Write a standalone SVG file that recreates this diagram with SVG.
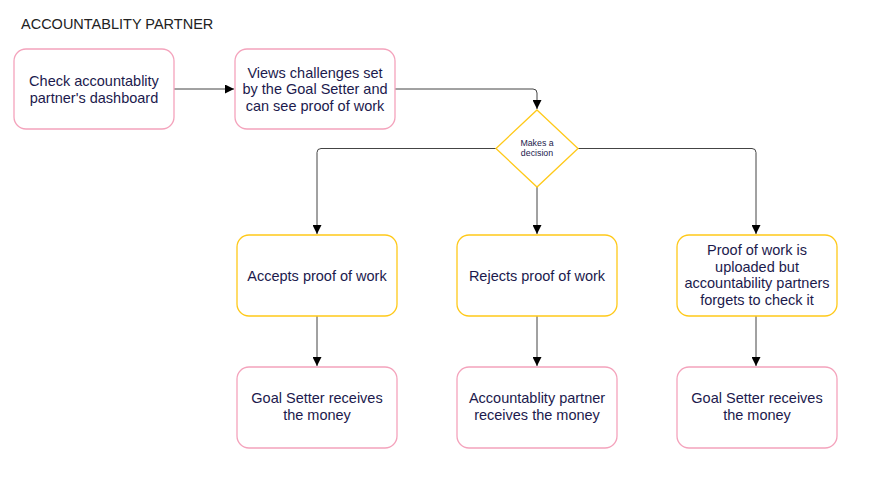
<svg xmlns="http://www.w3.org/2000/svg" width="874" height="488" viewBox="0 0 874 488">
<style>
.pink{fill:#fff;stroke:#f4a3bc;stroke-width:1.3}
.yel{fill:#fff;stroke:#ffc919;stroke-width:1.3}
.t{font-family:"Liberation Sans",Arial,sans-serif;font-size:14.5px;fill:#1c1a4d;text-anchor:middle}
.s{font-family:"Liberation Sans",Arial,sans-serif;font-size:8.8px;fill:#1c1a4d;text-anchor:middle}
.title{font-family:"Liberation Sans",Arial,sans-serif;font-size:14.5px;fill:#222}
.c{fill:none;stroke:#444;stroke-width:1}
</style>
<defs>
<marker id="ah" viewBox="0 0 10 10" refX="10" refY="5" markerWidth="9" markerHeight="9" markerUnits="userSpaceOnUse" orient="auto">
<path d="M0,0 L10,5 L0,10 z" fill="#000"/>
</marker>
</defs>
<rect width="874" height="488" fill="#fff"/>
<text class="title" x="21" y="29">ACCOUNTABLITY PARTNER</text>
<g id="connectors">
<path class="c" d="M174,89 H234" marker-end="url(#ah)"/>
<path class="c" d="M395,89 H533 Q537,89 537,93 V109" marker-end="url(#ah)"/>
<path class="c" d="M496,148.5 H321 Q317,148.5 317,152.5 V234" marker-end="url(#ah)"/>
<path class="c" d="M537,187 V234" marker-end="url(#ah)"/>
<path class="c" d="M578,148.5 H752 Q756,148.5 756,152.5 V234" marker-end="url(#ah)"/>
<path class="c" d="M317,316 V366" marker-end="url(#ah)"/>
<path class="c" d="M537,316 V366" marker-end="url(#ah)"/>
<path class="c" d="M756,316 V366" marker-end="url(#ah)"/>
</g>
<g id="check">
<rect class="pink" x="14" y="49" width="160" height="80" rx="12"/>
<text class="t" x="94" y="86">Check accountablity</text>
<text class="t" x="94" y="102.5">partner's dashboard</text>
</g>
<g id="views">
<rect class="pink" x="235" y="49" width="160" height="80" rx="12"/>
<text class="t" x="315" y="77.5">Views challenges set</text>
<text class="t" x="315" y="94">by the Goal Setter and</text>
<text class="t" x="315" y="110.5">can see proof of work</text>
</g>
<g id="decision">
<polygon class="yel" points="537,110 578,148.5 537,187 496,148.5"/>
<text class="s" x="537" y="146">Makes a</text>
<text class="s" x="537" y="156">decision</text>
</g>
<g id="accepts">
<rect class="yel" x="237" y="235" width="160" height="81" rx="12"/>
<text class="t" x="317" y="280.5">Accepts proof of work</text>
</g>
<g id="rejects">
<rect class="yel" x="457" y="235" width="160" height="81" rx="12"/>
<text class="t" x="537" y="280.5">Rejects proof of work</text>
</g>
<g id="forgets">
<rect class="yel" x="677" y="235" width="160" height="81" rx="12"/>
<text class="t" x="757" y="255">Proof of work is</text>
<text class="t" x="757" y="271.5">uploaded but</text>
<text class="t" x="757" y="288">accountability partners</text>
<text class="t" x="757" y="304.5">forgets to check it</text>
</g>
<g id="goal1">
<rect class="pink" x="237" y="367" width="160" height="81" rx="12"/>
<text class="t" x="317" y="403">Goal Setter receives</text>
<text class="t" x="317" y="419.5">the money</text>
</g>
<g id="partner">
<rect class="pink" x="457" y="367" width="160" height="81" rx="12"/>
<text class="t" x="537" y="403">Accountablity partner</text>
<text class="t" x="537" y="419.5">receives the money</text>
</g>
<g id="goal2">
<rect class="pink" x="677" y="367" width="160" height="81" rx="12"/>
<text class="t" x="757" y="403">Goal Setter receives</text>
<text class="t" x="757" y="419.5">the money</text>
</g>
</svg>
